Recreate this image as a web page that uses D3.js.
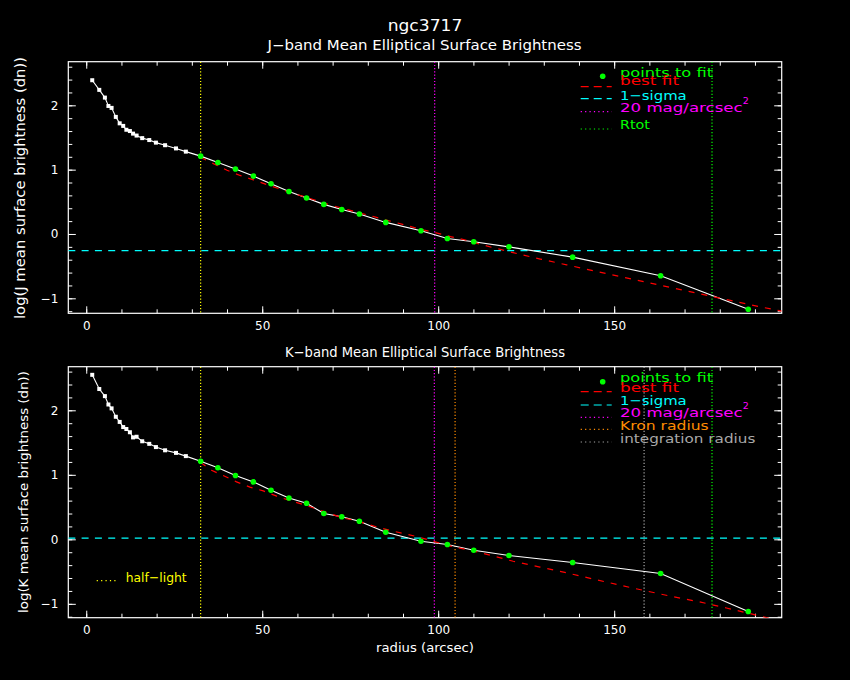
<!DOCTYPE html>
<html>
<head>
<meta charset="utf-8">
<script src="https://cdn.jsdelivr.net/npm/d3@7"></script>
<style>
	body { margin: 0; background: #000; }
	svg { display: block; font-family: "DejaVu Sans", sans-serif; }
</style>
</head>
<body>
<div id="vis"></div>
<script>
// radii of the elliptical annuli (arcsec), shared by both bands
const radius = [1.7, 3.7, 5.3, 6.3, 7.2, 8.4, 9.5, 10.5, 11.4, 12.4, 13.3, 14.3, 15.9, 17.9, 19.8, 22.4, 25.5, 28.3,
	32.5, 37.4, 42.4, 47.5, 52.5, 57.6, 62.6, 67.5, 72.6, 77.6, 85.1, 95.1, 102.6, 110.1, 120.1, 138.2, 163.2, 188.1];
const jProfile = [2.39, 2.24, 2.12, 1.99, 1.96, 1.82, 1.72, 1.68, 1.62, 1.60, 1.56, 1.53, 1.49, 1.46, 1.42, 1.38, 1.33, 1.28,
	1.21, 1.11, 1.01, 0.90, 0.78, 0.66, 0.56, 0.46, 0.38, 0.31, 0.18, 0.05, -0.07, -0.12, -0.20, -0.36, -0.65, -1.17];
const kProfile = [2.55, 2.33, 2.22, 2.09, 2.03, 1.90, 1.82, 1.74, 1.71, 1.66, 1.58, 1.59, 1.52, 1.48, 1.43, 1.38, 1.34, 1.29,
	1.21, 1.11, 0.99, 0.89, 0.76, 0.64, 0.56, 0.40, 0.35, 0.28, 0.11, -0.03, -0.08, -0.17, -0.25, -0.36, -0.53, -1.12];
const fitMinRadius = 32.5;

// best fit curves
const jBestRadius = [32.5, 36.6, 40, 43.7, 47.5, 51.2, 55, 58.8, 62.5, 66, 70, 73.5, 77.5, 81, 85, 88.5, 92.5, 96, 100,
	103.5, 107.5, 114, 121.3, 129, 136.5, 144, 151.6, 159.2, 166.8, 174.3, 181.9, 189.5, 197.6];
const jBestValue = [1.19, 1.08, 0.99, 0.91, 0.84, 0.77, 0.70, 0.63, 0.57, 0.51, 0.44, 0.39, 0.33, 0.28, 0.22, 0.17, 0.11, 0.06, 0.01,
	-0.04, -0.09, -0.19, -0.29, -0.39, -0.48, -0.57, -0.66, -0.75, -0.84, -0.93, -1.02, -1.11, -1.20];
const kBestRadius = [32.5, 35.6, 38.9, 42.7, 46.5, 50.3, 54.1, 57.9, 61.7, 65.4, 69.2, 73, 76.8, 80.1, 83.4, 87.7, 91, 94.8,
	98.6, 102.4, 105.7, 110, 115, 121.3, 128.9, 136.5, 144, 151.6, 158.2, 166.8, 174.3, 181.9, 192.3, 197.6];
const kBestValue = [1.19, 1.07, 0.99, 0.89, 0.81, 0.75, 0.67, 0.60, 0.54, 0.47, 0.40, 0.33, 0.29, 0.23, 0.18, 0.12, 0.08, 0.03,
	-0.03, -0.09, -0.13, -0.18, -0.25, -0.34, -0.43, -0.52, -0.615, -0.71, -0.79, -0.89, -0.97, -1.065, -1.20, -1.27];

const xMajorTicks = [0, 50, 100, 150];
const yMajorTicks = [-1, 0, 1, 2];

const jSigma = -0.26;
const kSigma = 0.02;
const halfLight = 32.5;
const jMag20 = 99.0;
const kMag20 = 98.9;
const kKron = 104.8;
const kIntegration = 158.5;
const rTot = 177.8;

const GREEN = "#00ff00", RED = "#ff0000", CYAN = "#00ffff", MAGENTA = "#ff00ff",
	YELLOW = "#ffff00", ORANGE = "#ff8c00", GRAY = "#a8a8a8";

const draw = () => {
	const W = 850, H = 680;
	const svg = d3.select("#vis").append("svg").attr("width", W).attr("height", H);
	svg.append("rect").attr("width", W).attr("height", H).attr("fill", "#000");

	const x = d3.scaleLinear().domain([-5.1, 197.6]).range([68.3, 781.7]);

	const text = (t, px, py, size, color, len, anchor) => {
		const el = svg.append("text")
			.attr("x", px).attr("y", py)
			.attr("font-size", size)
			.attr("fill", color)
			.attr("text-anchor", anchor || "start")
			.text(t);
		if (len) el.attr("textLength", len).attr("lengthAdjust", "spacingAndGlyphs");
		return el;
	};

	text("ngc3717", 425, 30.7, 15, "#fff", 74.6, "middle");
	text("J\u2212band Mean Elliptical Surface Brightness", 424.5, 49.7, 13.5, "#fff", 314, "middle");
	text("K\u2212band Mean Elliptical Surface Brightness", 425, 357.3, 13.5, "#fff", 280, "middle");
	text("radius (arcsec)", 425, 652, 13, "#fff", 98, "middle");

	const panels = [
		{
			top: 61.7, bottom: 313.3, yDomain: [-1.233, 2.678],
			profile: jProfile, bestR: jBestRadius, bestV: jBestValue, sigma: jSigma,
			ylabel: "log(J mean surface brightness (dn))", ylabelX: 25, ylabelY: 188, ylabelLen: 262, ylabelSize: 14,
			vlines: [[halfLight, YELLOW], [jMag20, MAGENTA], [rTot, GREEN]],
			legend: [
				{ label: "points to fit", color: GREEN, type: "dot", ty: 76.7, sy: 76.3, len: 93 },
				{ label: "best fit", color: RED, type: "dash", ty: 85, sy: 86.7, len: 59 },
				{ label: "1\u2212sigma", color: CYAN, type: "dash", ty: 100, sy: 98.7, len: 66.7 },
				{ label: "20 mag/arcsec", color: MAGENTA, type: "dot-line", ty: 112.3, sy: 111.7, len: 122.7, sup: true },
				{ label: "Rtot", color: GREEN, type: "dot-line", ty: 129, sy: 129, len: 30 }
			],
			halfLegend: false
		},
		{
			top: 366.7, bottom: 617.7, yDomain: [-1.215, 2.676],
			profile: kProfile, bestR: kBestRadius, bestV: kBestValue, sigma: kSigma,
			ylabel: "log(K mean surface brightness (dn))", ylabelX: 28, ylabelY: 492, ylabelLen: 242, ylabelSize: 13,
			vlines: [[halfLight, YELLOW], [kMag20, MAGENTA], [kKron, ORANGE], [kIntegration, GRAY], [rTot, GREEN]],
			legend: [
				{ label: "points to fit", color: GREEN, type: "dot", ty: 382.3, sy: 381.7, len: 93 },
				{ label: "best fit", color: RED, type: "dash", ty: 392.3, sy: 391.7, len: 59 },
				{ label: "1\u2212sigma", color: CYAN, type: "dash", ty: 405, sy: 405, len: 66.7 },
				{ label: "20 mag/arcsec", color: MAGENTA, type: "dot-line", ty: 417.3, sy: 417.3, len: 122.7, sup: true },
				{ label: "Kron radius", color: ORANGE, type: "dot-line", ty: 430, sy: 429.3, len: 88.7 },
				{ label: "integration radius", color: GRAY, type: "dot-line", ty: 443.3, sy: 442, len: 135.3 }
			],
			halfLegend: true
		}
	];

	panels.forEach((p, pi) => {
		const y = d3.scaleLinear().domain(p.yDomain).range([p.bottom, p.top]);
		const g = svg.append("g");
		const clipId = `clip${pi}`;
		svg.append("clipPath").attr("id", clipId)
			.append("rect")
			.attr("x", x.range()[0]).attr("y", p.top)
			.attr("width", x.range()[1] - x.range()[0]).attr("height", p.bottom - p.top);

		// axes, ticks pointing inwards on all four sides
		const axes = [
			[d3.axisBottom(x), `translate(0,${p.bottom})`, true],
			[d3.axisTop(x), `translate(0,${p.top})`, false]
		];
		axes.forEach(([ax, tr, labels]) => {
			g.append("g").attr("transform", tr)
				.call(ax.tickValues(d3.range(0, 200, 10)).tickSize(-4).tickFormat(""));
			g.append("g").attr("transform", tr)
				.call(ax.tickValues(xMajorTicks).tickSize(-7).tickPadding(8)
					.tickFormat(labels ? d3.format("d") : ""));
		});
		const yAxes = [
			[d3.axisLeft(y), `translate(${x.range()[0]},0)`, true],
			[d3.axisRight(y), `translate(${x.range()[1]},0)`, false]
		];
		yAxes.forEach(([ax, tr, labels]) => {
			g.append("g").attr("transform", tr)
				.call(ax.tickValues(d3.range(-1.2, 2.61, 0.2)).tickSize(-4).tickFormat(""));
			g.append("g").attr("transform", tr)
				.call(ax.tickValues(yMajorTicks).tickSize(-7.5).tickPadding(10)
					.tickFormat(labels ? (d => d < 0 ? "\u2212" + Math.abs(d) : d) : ""));
		});
		g.selectAll(".domain").remove();
		g.selectAll(".tick line").attr("stroke", "#fff");
		g.selectAll(".tick text").attr("fill", "#fff").attr("font-size", 12)
			.attr("font-family", "DejaVu Sans, sans-serif");

		g.append("rect")
			.attr("x", x.range()[0]).attr("y", p.top)
			.attr("width", x.range()[1] - x.range()[0]).attr("height", p.bottom - p.top)
			.attr("fill", "none").attr("stroke", "#fff").attr("stroke-width", 1.2);

		svg.append("text")
			.attr("transform", `translate(${p.ylabelX},${p.ylabelY}) rotate(-90)`)
			.attr("text-anchor", "middle")
			.attr("font-size", p.ylabelSize)
			.attr("fill", "#fff")
			.attr("textLength", p.ylabelLen)
			.attr("lengthAdjust", "spacingAndGlyphs")
			.text(p.ylabel);

		const plot = g.append("g").attr("clip-path", `url(#${clipId})`);

		// 1-sigma level
		plot.append("line")
			.attr("x1", x.range()[0]).attr("x2", x.range()[1])
			.attr("y1", y(p.sigma)).attr("y2", y(p.sigma))
			.attr("stroke", CYAN).attr("stroke-width", 1.3).attr("stroke-dasharray", "7,6.3");

		// vertical radius markers
		p.vlines.forEach(([v, c]) => {
			plot.append("line")
				.attr("x1", x(v)).attr("x2", x(v))
				.attr("y1", p.top).attr("y2", p.bottom)
				.attr("stroke", c).attr("stroke-width", 1.2).attr("stroke-dasharray", "1.2,2");
		});

		// profile
		const pts = radius.map((r, i) => ({ r, v: p.profile[i] }));
		plot.append("path")
			.datum(pts)
			.attr("fill", "none").attr("stroke", "#fff").attr("stroke-width", 1.1)
			.attr("d", d3.line().x(d => x(d.r)).y(d => y(d.v)));

		// best fit
		const best = p.bestR.map((r, i) => ({ r, v: p.bestV[i] }));
		plot.append("path")
			.datum(best)
			.attr("fill", "none").attr("stroke", RED).attr("stroke-width", 1.2)
			.attr("stroke-dasharray", "6,7")
			.attr("d", d3.line().x(d => x(d.r)).y(d => y(d.v)));

		plot.selectAll(".inner")
			.data(pts.filter(d => d.r < fitMinRadius))
			.join("rect")
			.attr("x", d => x(d.r) - 2).attr("y", d => y(d.v) - 2)
			.attr("width", 4).attr("height", 4)
			.attr("fill", "#fff");
		plot.selectAll(".fitpt")
			.data(pts.filter(d => d.r >= fitMinRadius))
			.join("circle")
			.attr("cx", d => x(d.r)).attr("cy", d => y(d.v))
			.attr("r", 2.8)
			.attr("fill", GREEN);

		// legend
		p.legend.forEach(e => {
			if (e.type === "dot") {
				svg.append("circle").attr("cx", 602.7).attr("cy", e.sy).attr("r", 2.8).attr("fill", e.color);
			} else {
				svg.append("line")
					.attr("x1", 580.7).attr("x2", 611.7)
					.attr("y1", e.sy).attr("y2", e.sy)
					.attr("stroke", e.color).attr("stroke-width", 1.2)
					.attr("stroke-dasharray", e.type === "dash" ? "8,5" : "1.2,3.2");
			}
			const t = svg.append("text")
				.attr("y", e.ty)
				.attr("font-size", 13)
				.attr("fill", e.color);
			t.append("tspan")
				.attr("x", 620)
				.attr("textLength", e.len)
				.attr("lengthAdjust", "spacingAndGlyphs")
				.text(e.label);
			if (e.sup) {
				t.append("tspan")
					.attr("x", 742.7)
					.attr("dy", -8.6)
					.attr("font-size", 9.5)
					.text("2");
			}
		});

		if (p.halfLegend) {
			svg.append("line")
				.attr("x1", 96.7).attr("x2", 116.7)
				.attr("y1", 580.7).attr("y2", 580.7)
				.attr("stroke", YELLOW).attr("stroke-width", 1.2)
				.attr("stroke-dasharray", "1.2,3.2");
			text("half\u2212light", 125.7, 581.7, 13, YELLOW, 61);
		}
	});
};

draw();
</script>
</body>
</html>
